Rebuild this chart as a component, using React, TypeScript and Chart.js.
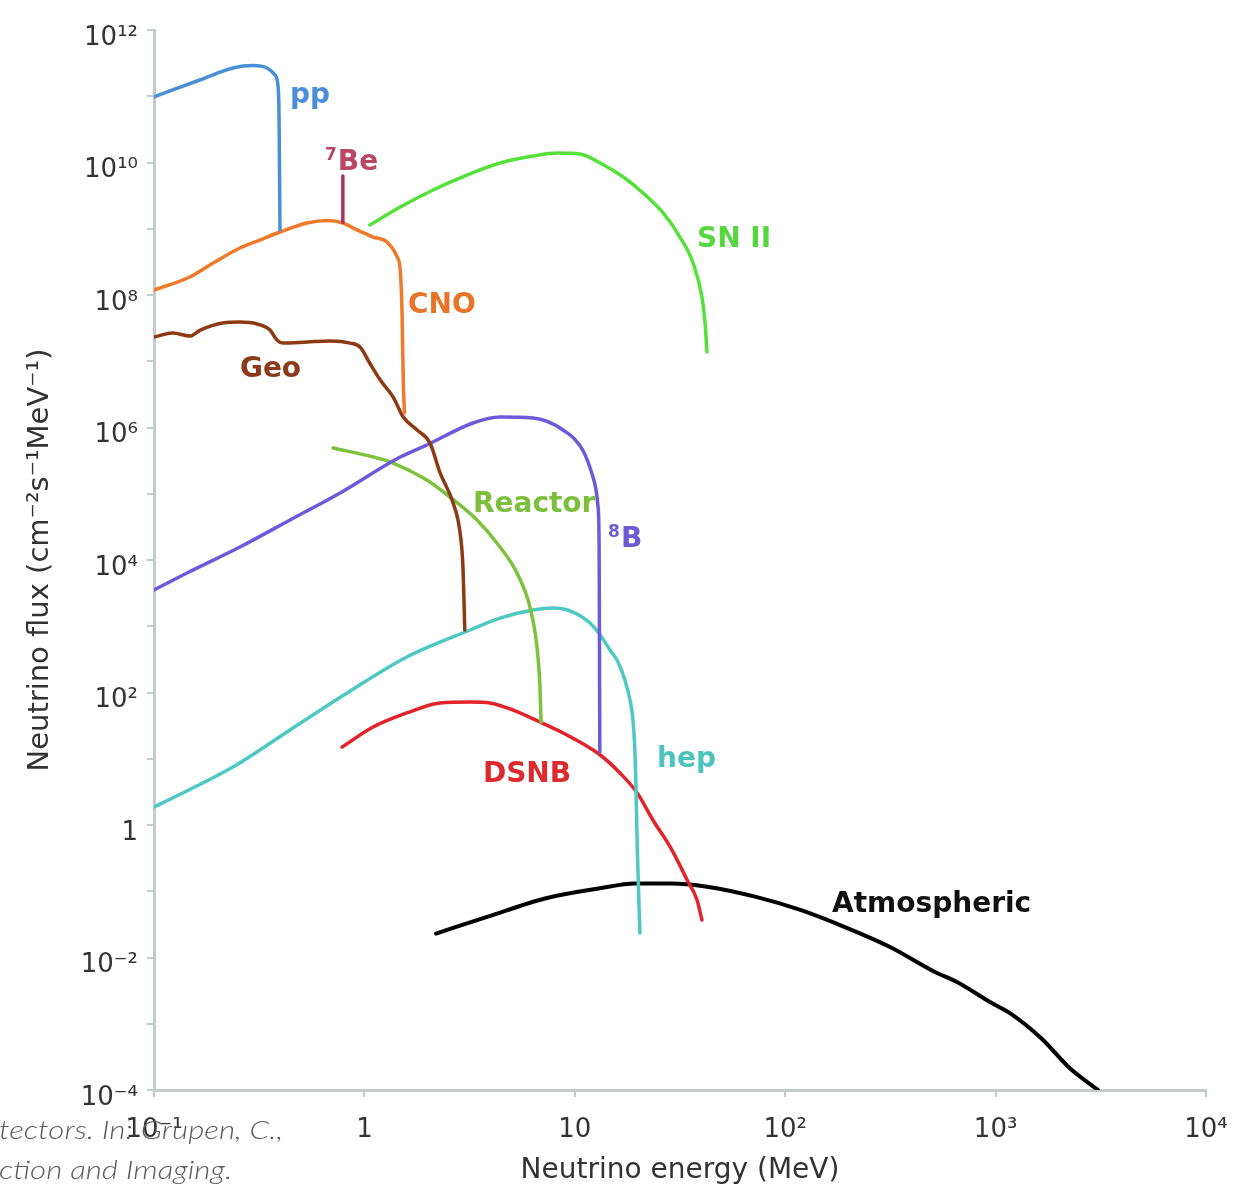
import React, { useEffect, useRef } from 'react';
import { Chart, registerables } from 'chart.js';

Chart.register(...registerables);

// ---------- data (energy in MeV, flux in cm^-2 s^-1 MeV^-1) ----------
const ppEnergy = [0.1, 0.165, 0.237, 0.296, 0.344, 0.376, 0.389, 0.393, 0.397];
const ppFlux = [9.8e10, 1.76e11, 2.67e11, 2.9e11, 2.67e11, 2.09e11, 1.38e11, 4.9e10, 9.6e8];

const be7Energy = [0.79, 0.79];
const be7Flux = [1.25e9, 6.25e9];

const cnoEnergy = [0.1, 0.148, 0.191, 0.256, 0.319, 0.397, 0.534, 0.664, 0.79, 0.922, 1.1, 1.28, 1.43, 1.48, 1.51, 1.53, 1.55];
const cnoFlux = [1.19e8, 1.87e8, 3.04e8, 5.12e8, 6.76e8, 8.93e8, 1.22e9, 1.33e9, 1.22e9, 9.6e8, 7.5e8, 6.3e8, 3.75e8, 2.38e8, 5.35e7, 5.2e6, 1.66e6];

const geoEnergy = [0.1, 0.123, 0.148, 0.166, 0.213, 0.256, 0.309, 0.356, 0.384, 0.41, 0.534, 0.686, 0.854, 0.953, 1.06, 1.19, 1.37, 1.53, 1.78, 2.05, 2.29, 2.64, 2.85, 2.94, 3.0];
const geoFlux = [2.32e7, 2.67e7, 2.4e7, 2.96e7, 3.78e7, 3.9e7, 3.65e7, 2.96e7, 2.09e7, 1.88e7, 1.95e7, 2.02e7, 1.88e7, 1.64e7, 9.4e6, 5.2e6, 2.88e6, 1.44e6, 9.17e5, 5.83e5, 2.06e5, 7.25e4, 2.56e4, 7.84e3, 878];

const snEnergy = [1.06, 1.48, 2.12, 3.07, 4.41, 6.33, 8.23, 10.6, 13.2, 17.0, 21.1, 26.3, 31.6, 36.5, 40.2, 41.6, 42.5];
const snFlux = [1.14e9, 2.13e9, 3.85e9, 6.47e9, 9.82e9, 1.25e10, 1.39e10, 1.34e10, 9.82e9, 6.04e9, 3.47e9, 1.73e9, 7.5e8, 3.04e8, 9.33e7, 3.78e7, 1.38e7];

const b8Energy = [0.1, 0.1435, 0.256, 0.443, 0.766, 1.48, 1.98, 3.28, 4.41, 6.33, 8.79, 10.9, 12.2, 12.9, 13.05, 13.1, 13.15];
const b8Flux = [3.52e3, 6.37e3, 1.57e4, 4.02e4, 1.03e5, 3.59e5, 5.44e5, 1.17e6, 1.44e6, 1.39e6, 9.17e5, 4.57e5, 1.79e5, 6.3e4, 1.57e4, 486, 12.6];

const reactorEnergy = [0.709, 1.1, 1.37, 1.98, 2.55, 3.43, 4.41, 5.31, 6.12, 6.61, 6.83, 6.91];
const reactorFlux = [4.91e5, 3.59e5, 2.91e5, 1.61e5, 8.93e4, 4.02e4, 1.57e4, 6.37e3, 1.95e3, 486, 121, 35.9];

const hepEnergy = [0.1, 0.137, 0.237, 0.443, 0.827, 1.59, 3.18, 4.41, 6.33, 7.88, 9.8, 11.8, 13.2, 14.7, 16.05, 17.3, 18.3, 18.9, 19.3, 19.5, 19.8, 20.4];
const hepFlux = [1.87, 3.04, 7.5, 27.2, 98.2, 343, 878, 1330, 1760, 1880, 1640, 1120, 738, 438, 289, 154, 77, 38.5, 13.6, 4.78, 0.466, 0.0234];

const dsnbEnergy = [0.783, 1.1, 1.59, 2.29, 3.18, 3.95, 5.09, 6.83, 9.18, 13.2, 16.4, 19.8, 23.5, 28.4, 34.2, 38.1, 40.2];
const dsnbFlux = [15.0, 30.1, 49.1, 69.5, 71.9, 69.5, 54.4, 35.9, 22.8, 11.4, 6.09, 3.04, 1.19, 0.466, 0.148, 0.0738, 0.0368];

const atmEnergy = [2.19, 3.83, 7.22, 13.0, 19.3, 28.7, 42.5, 72.6, 119, 192, 315, 515, 655, 972, 1184, 1662, 2233, 3067];
const atmFlux = [0.023, 0.041, 0.0778, 0.11, 0.131, 0.131, 0.117, 0.0822, 0.0518, 0.0288, 0.0144, 0.00603, 0.00426, 0.002, 0.00141, 5.89e-4, 2.19e-4, 1.0e-4];

// axis tick exponents
const xTickExponents = [-1, 0, 1, 2, 3, 4];
const yTickExponents = [-4, -3, -2, -1, 0, 1, 2, 3, 4, 5, 6, 7, 8, 9, 10, 11, 12];

// curve labels (anchored at energy / flux of their left baseline)
const labelTexts = ['pp', 'Be', 'CNO', 'Geo', 'SN II', 'Reactor', 'B', 'hep', 'DSNB', 'Atmospheric'];
const labelSups = ['', '7', '', '', '', '', '8', '', '', ''];
const labelEnergy = [0.443, 0.65, 1.61, 0.256, 38.1, 3.28, 14.4, 24.6, 3.66, 167];
const labelFlux = [7.9e10, 7.7e9, 5.35e7, 5.78e6, 5.3e8, 5.3e4, 1.57e4, 7.5, 4.46, 0.0487];
const labelColors = ['#4b8ed6', '#b94663', '#e8742a', '#8b3a1b', '#55d83e', '#7cbf3d', '#6d5bd5', '#4cc4be', '#dc2a2e', '#111111'];

const captionLines = ['tectors. In: Grupen, C.,', 'ction and Imaging.'];

// ---------- styling ----------
const series = [
  { name: 'pp', e: ppEnergy, f: ppFlux, color: '#4a8fd5', width: 3.5, smooth: true },
  { name: '7Be', e: be7Energy, f: be7Flux, color: '#a3365a', width: 3.5, smooth: false },
  { name: 'CNO', e: cnoEnergy, f: cnoFlux, color: '#ee7a2a', width: 3.5, smooth: true },
  { name: 'Geo', e: geoEnergy, f: geoFlux, color: '#8c3a14', width: 3.5, smooth: true },
  { name: 'SN II', e: snEnergy, f: snFlux, color: '#55e03a', width: 3.5, smooth: true },
  { name: '8B', e: b8Energy, f: b8Flux, color: '#6c5ad8', width: 3.5, smooth: true },
  { name: 'Reactor', e: reactorEnergy, f: reactorFlux, color: '#7cc23c', width: 3.5, smooth: true },
  { name: 'hep', e: hepEnergy, f: hepFlux, color: '#4ec8c2', width: 3.5, smooth: true },
  { name: 'DSNB', e: dsnbEnergy, f: dsnbFlux, color: '#e2242a', width: 3.5, smooth: true },
  { name: 'Atmospheric', e: atmEnergy, f: atmFlux, color: '#000000', width: 4, smooth: true },
];

const SUP: Record<string, string> = {
  '0': '\u2070', '1': '\u00B9', '2': '\u00B2', '3': '\u00B3', '4': '\u2074',
  '5': '\u2075', '6': '\u2076', '7': '\u2077', '8': '\u2078', '9': '\u2079', '-': '\u207B',
};
function powerLabel(n: number): string {
  if (n === 0) return '1';
  if (n === 1) return '10';
  return '10' + String(n).split('').map((c) => SUP[c]).join('');
}

const AXIS_GREY = '#c4cbcb';
const TEXT_GREY = '#333333';
const FONT = '"DejaVu Sans", "Liberation Sans", Arial, sans-serif';

const labelPlugin = {
  id: 'curveLabels',
  afterDatasetsDraw(chart: any) {
    const { ctx, scales } = chart;
    const xs = scales.x;
    const ys = scales.y;
    ctx.save();
    ctx.textAlign = 'left';
    ctx.textBaseline = 'alphabetic';
    labelTexts.forEach((t, i) => {
      let px = xs.getPixelForValue(labelEnergy[i]);
      const py = ys.getPixelForValue(labelFlux[i]);
      ctx.fillStyle = labelColors[i];
      if (labelSups[i]) {
        ctx.font = `bold 17px ${FONT}`;
        ctx.fillText(labelSups[i], px, py - 10);
        px += ctx.measureText(labelSups[i]).width + 1;
      }
      ctx.font = `bold 28px ${FONT}`;
      ctx.fillText(t, px, py);
    });
    ctx.restore();
  },
};

export default function App() {
  const canvasRef = useRef<HTMLCanvasElement | null>(null);

  useEffect(() => {
    if (!canvasRef.current) return;
    const datasets = series.map((s) => ({
      label: s.name,
      data: s.e.map((e, i) => ({ x: e, y: s.f[i] })),
      borderColor: s.color,
      backgroundColor: s.color,
      borderWidth: s.width,
      showLine: true,
      fill: false,
      pointRadius: 0,
      pointHoverRadius: 0,
      tension: 0,
      cubicInterpolationMode: s.smooth ? ('monotone' as const) : ('default' as const),
      borderCapStyle: 'round' as const,
      borderJoinStyle: 'round' as const,
    }));

    const chart = new Chart(canvasRef.current, {
      type: 'scatter',
      data: { datasets },
      plugins: [labelPlugin],
      options: {
        animation: false,
        responsive: false,
        devicePixelRatio: 1,
        layout: { padding: { top: 30, right: 30, left: 0, bottom: 0 } },
        plugins: {
          legend: { display: false },
          tooltip: { enabled: false },
        },
        scales: {
          x: {
            type: 'logarithmic',
            min: 0.1,
            max: 1e4,
            afterBuildTicks: (scale: any) => {
              scale.ticks = xTickExponents.map((n) => ({ value: Math.pow(10, n) }));
            },
            afterFit: (scale: any) => {
              scale.height = 101;
              scale.paddingLeft = 0;
              scale.paddingRight = 0;
            },
            ticks: {
              autoSkip: false,
              maxRotation: 0,
              padding: 18,
              color: TEXT_GREY,
              font: { family: FONT, size: 26 },
              callback: (v: any) => powerLabel(Math.round(Math.log10(Number(v)))),
            },
            grid: {
              display: true,
              drawOnChartArea: false,
              drawTicks: true,
              tickLength: 7,
              color: AXIS_GREY,
              lineWidth: 2,
            },
            border: { display: true, color: AXIS_GREY, width: 3 },
            title: {
              display: true,
              text: 'Neutrino energy (MeV)',
              color: TEXT_GREY,
              font: { family: FONT, size: 28 },
              padding: { top: 0, bottom: 3 },
            },
          },
          y: {
            type: 'logarithmic',
            min: 1e-4,
            max: 1e12,
            afterBuildTicks: (scale: any) => {
              scale.ticks = yTickExponents.map((n) => ({ value: Math.pow(10, n) }));
            },
            afterFit: (scale: any) => {
              scale.width = 154;
            },
            ticks: {
              autoSkip: false,
              padding: 9,
              labelOffset: 8,
              color: TEXT_GREY,
              font: { family: FONT, size: 26 },
              callback: (v: any) => {
                const n = Math.round(Math.log10(Number(v)));
                return n % 2 === 0 ? powerLabel(n) : '';
              },
            },
            grid: {
              display: true,
              drawOnChartArea: false,
              drawTicks: true,
              tickLength: 7,
              color: AXIS_GREY,
              lineWidth: 2,
            },
            border: { display: true, color: AXIS_GREY, width: 3 },
            title: {
              display: true,
              text: 'Neutrino flux (cm\u207B\u00B2s\u207B\u00B9MeV\u207B\u00B9)',
              color: TEXT_GREY,
              font: { family: FONT, size: 29 },
              padding: { top: 23, bottom: 0 },
            },
          },
        },
      } as any,
    });
    return () => chart.destroy();
  }, []);

  return (
    <div style={{ position: 'absolute', left: 0, top: 0, width: 1236, height: 1191, background: '#ffffff', overflow: 'hidden' }}>
      <canvas ref={canvasRef} width={1236} height={1191} style={{ display: 'block' }} />
      {captionLines.map((line, i) => (
        <div
          key={i}
          style={{
            position: 'absolute',
            left: -1,
            top: 1114 + i * 40,
            fontFamily: 'Lato, "Open Sans", sans-serif',
            fontStyle: 'italic',
            fontWeight: 300,
            fontSize: 25,
            lineHeight: '30px',
            color: '#5a5a5a',
            whiteSpace: 'nowrap',
            transform: 'scaleX(1.25)',
            transformOrigin: 'left top',
            pointerEvents: 'none',
          }}
        >
          {line}
        </div>
      ))}
    </div>
  );
}
